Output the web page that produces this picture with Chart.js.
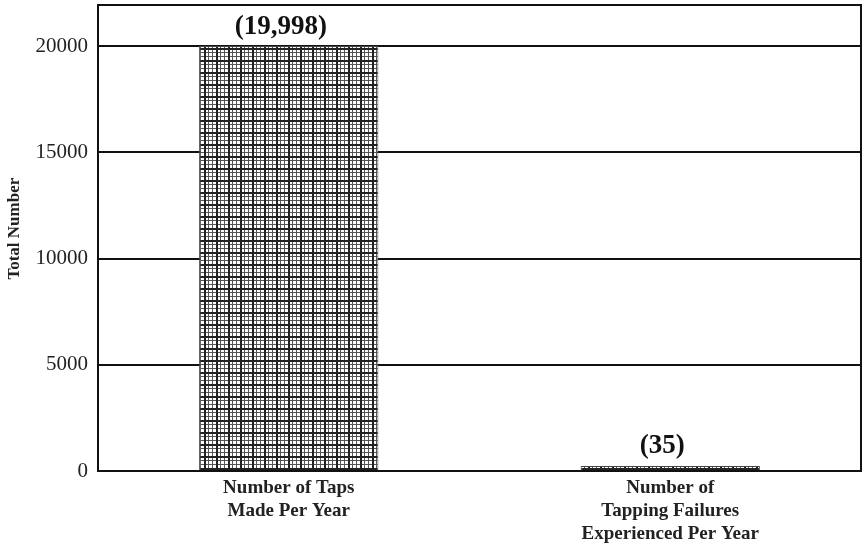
<!DOCTYPE html>
<html>
<head>
<meta charset="utf-8">
<script src="https://cdn.jsdelivr.net/npm/chart.js@4/dist/chart.umd.min.js"></script>
<style>
  html, body { margin: 0; padding: 0; background: #fff; }
</style>
</head>
<body>
<canvas id="chart" width="864" height="552"></canvas>
<script>
// datos
const categorias = [
    ['Number of Taps', 'Made Per Year'],
    ['Number of', 'Tapping Failures', 'Experienced Per Year']
];
const valores = [19998, 35];
const etiquetasValor = ['(19,998)', '(35)'];
const ticksY = [0, 5000, 10000, 15000, 20000];
const tituloY = 'Total Number';

// trama cuadriculada de las barras
function crearTrama() {
    const c = document.createElement('canvas');
    c.width = 12; c.height = 12;
    const g = c.getContext('2d');
    g.fillStyle = '#fff';
    g.fillRect(0, 0, 12, 12);
    g.fillStyle = '#555';
    [0, 4, 8].forEach(p => {
        g.fillRect(p, 0, 1, 12);
        g.fillRect(0, p, 12, 1);
    });
    g.fillStyle = '#222';
    g.fillRect(0, 0, 2, 12);
    g.fillRect(0, 0, 12, 2);
    return g.createPattern(c, 'repeat');
}

const serif = '"Liberation Serif", "Times New Roman", serif';

// marco del area, titulo del eje y etiquetas sobre las barras
const marcoYEtiquetas = {
    id: 'marcoYEtiquetas',
    afterDraw(chart) {
        const { ctx, chartArea } = chart;
        ctx.save();
        ctx.strokeStyle = '#111';
        ctx.lineWidth = 2;
        ctx.strokeRect(chartArea.left, chartArea.top, chartArea.right - chartArea.left, chartArea.bottom - chartArea.top);
        ctx.fillStyle = '#111';
        ctx.font = 'bold 27px ' + serif;
        ctx.textAlign = 'center';
        ctx.textBaseline = 'bottom';
        chart.getDatasetMeta(0).data.forEach((bar, i) => {
            ctx.fillText(etiquetasValor[i], bar.x - 8, bar.y - 6);
        });
        // titulo vertical, un poco por encima del centro como en el original
        ctx.save();
        ctx.translate(15, chartArea.top + (chartArea.bottom - chartArea.top) * 0.48);
        ctx.rotate(-Math.PI / 2);
        ctx.font = 'bold 17px ' + serif;
        ctx.textBaseline = 'middle';
        ctx.fillStyle = '#222';
        ctx.fillText(tituloY, 0, 0);
        ctx.restore();
        ctx.restore();
    }
};

new Chart(document.getElementById('chart'), {
    type: 'bar',
    data: {
        labels: categorias,
        datasets: [{
            data: valores,
            backgroundColor: crearTrama(),
            borderColor: '#444',
            borderWidth: 1,
            barPercentage: 0.94,
            categoryPercentage: 0.5,
            minBarLength: 5
        }]
    },
    options: {
        responsive: false,
        animation: false,
        layout: { padding: { top: 5, right: 3, left: 0, bottom: 0 } },
        plugins: {
            legend: { display: false },
            tooltip: { enabled: false }
        },
        scales: {
            x: {
                grid: { display: false, drawTicks: false },
                border: { display: true, color: '#111', width: 2 },
                ticks: {
                    color: '#222',
                    font: { family: serif, size: 19, weight: 'bold' },
                    padding: 6,
                    maxRotation: 0,
                    autoSkip: false
                },
                afterFit(scale) { scale.height = 81; }
            },
            y: {
                min: 0,
                max: 21930,
                afterBuildTicks(scale) {
                    scale.ticks = ticksY.map(v => ({ value: v }));
                },
                grid: { color: '#111', lineWidth: 2, drawTicks: false },
                border: { display: true, color: '#111', width: 2 },
                ticks: {
                    color: '#222',
                    font: { family: serif, size: 21 },
                    padding: 10,
                    callback: v => String(v)
                },
                afterFit(scale) {
                    scale.width = 98;
                    scale.paddingTop = 0;
                    scale.paddingBottom = 0;
                }
            }
        }
    },
    plugins: [marcoYEtiquetas]
});
</script>
</body>
</html>
